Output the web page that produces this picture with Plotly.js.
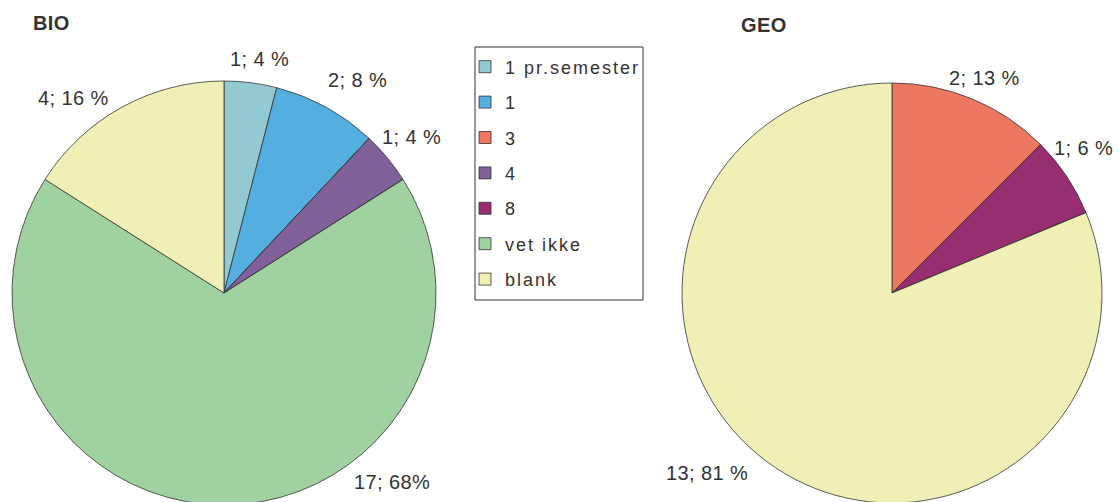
<!DOCTYPE html>
<html>
<head>
<meta charset="utf-8">
<script src="https://cdn.plot.ly/plotly-3.0.1.min.js"></script>
<style>
  html, body { margin: 0; padding: 0; overflow: hidden; background: #fff; }
  .legendtext { letter-spacing: 2px; }
  .annotation-text { letter-spacing: 0.4px; }
</style>
</head>
<body>
<div id="plot"></div>
<script>
// categories and counts per subject
const labels = ['1 pr.semester', '1', '3', '4', '8', 'vet ikke', 'blank'];
const bioValues = [1, 2, 0, 1, 0, 17, 4];
const geoValues = [0, 0, 2, 0, 1, 0, 13];
// slice labels as printed ("count; percent"), empty for zero slices
const bioText = ['1; 4 %', '2; 8 %', '', '1; 4 %', '', '17; 68%', '4; 16 %'];
const geoText = ['', '', '2; 13 %', '', '1; 6 %', '', '13; 81 %'];
const colors = ['#93CAD2', '#54AFE0', '#EE7760', '#816199', '#982E70', '#A0D1A0', '#F0EFB6'];

const W = 1119, H = 520;
const px = x => x / W;
const py = y => (H - y) / H;

const fam = 'Liberation Sans, Arial, sans-serif';
const ink = '#333';

function pieTrace(values, x0, x1, y0, y1) {
    return {
        type: 'pie',
        labels: labels,
        values: values,
        textinfo: 'none',
        sort: false,
        direction: 'clockwise',
        rotation: 0,
        marker: { colors: colors, line: { color: ink, width: 0.8 } },
        domain: { x: [px(x0), px(x1)], y: [py(y1), py(y0)] },
        hoverinfo: 'label+value+percent'
    };
}

const bio = pieTrace(bioValues, 12, 436, 81, 505);
const geo = pieTrace(geoValues, 682, 1102, 83, 503);

// empty item in its own legend group: lets tracegroupgap space the slice entries
const pad = {
    type: 'scatter', x: [null], y: [null], mode: 'none', name: '',
    legendgroup: 'pad', showlegend: true, hoverinfo: 'skip'
};

// where the slice labels sit (pixel centres, same order as the labels)
const bioLabelPos = [[259, 59], [358, 80], null, [411, 137], null, [392, 482], [73, 98]];
const geoLabelPos = [null, null, [984, 78], null, [1083, 148], null, [707, 473]];

const sliceLabels = [];
[[bioText, bioLabelPos], [geoText, geoLabelPos]].forEach(([texts, pos]) => {
    texts.forEach((t, i) => {
        if (!t) return;
        sliceLabels.push({
            text: t, xref: 'paper', yref: 'paper',
            x: px(pos[i][0]), y: py(pos[i][1]),
            xanchor: 'center', yanchor: 'middle', showarrow: false,
            font: { family: fam, size: 20, color: ink }
        });
    });
});

const titleFont = { family: fam, size: 20, color: ink, weight: 'bold' };

const layout = {
    width: W,
    height: H,
    margin: { l: 0, r: 0, t: 0, b: 0 },
    paper_bgcolor: '#fff',
    plot_bgcolor: 'rgba(0,0,0,0)',
    font: { family: fam, size: 18, color: ink },
    showlegend: true,
    xaxis: { visible: false },
    yaxis: { visible: false },
    legend: {
        x: px(465), y: py(48.5), xanchor: 'left', yanchor: 'top',
        traceorder: 'grouped', tracegroupgap: 9,
        bgcolor: 'rgba(0,0,0,0)', borderwidth: 0,
        font: { family: fam, size: 18, color: ink }
    },
    shapes: [{
        type: 'rect', xref: 'paper', yref: 'paper',
        x0: px(475), x1: px(643), y0: py(300), y1: py(47),
        line: { color: ink, width: 1 }
    }],
    annotations: [
        { text: 'BIO', xref: 'paper', yref: 'paper', x: px(31), y: py(23),
          xanchor: 'left', yanchor: 'middle', showarrow: false, font: titleFont },
        { text: 'GEO', xref: 'paper', yref: 'paper', x: px(739), y: py(25),
          xanchor: 'left', yanchor: 'middle', showarrow: false, font: titleFont }
    ].concat(sliceLabels)
};

Plotly.newPlot('plot', [bio, geo, pad], layout, { displayModeBar: false, staticPlot: true });
</script>
</body>
</html>
